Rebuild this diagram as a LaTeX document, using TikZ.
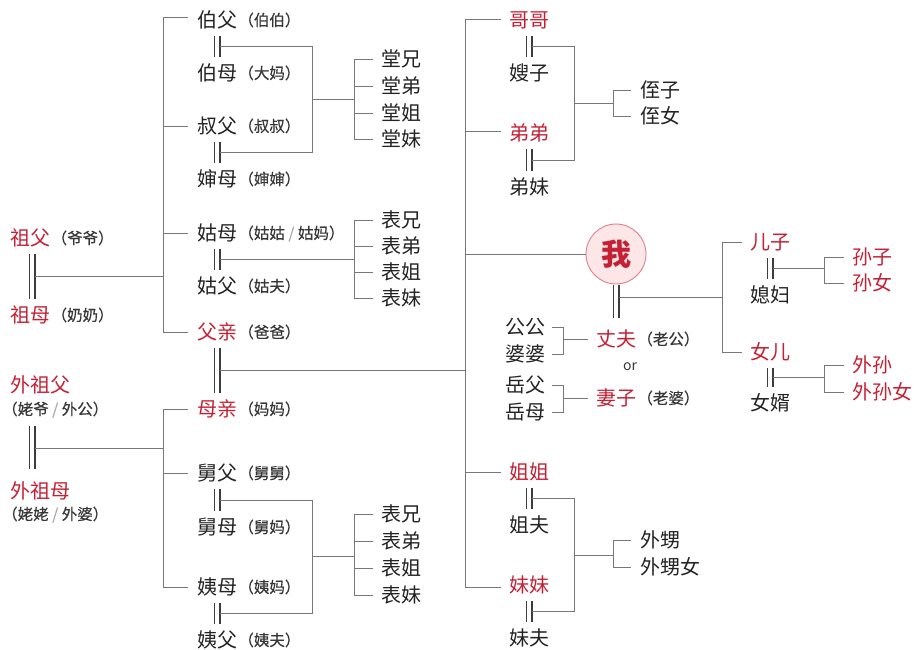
\documentclass[tikz,border=0pt]{standalone}
\usepackage{fontspec}
\newfontfamily\cjk{Noto Sans CJK SC}
\newfontfamily\cjkm[FakeBold=0.5]{Noto Sans CJK SC}
\usetikzlibrary{calc}
\definecolor{kred}{RGB}{198,32,52}
\definecolor{txt}{RGB}{35,35,35}
\definecolor{notec}{RGB}{55,55,55}
\definecolor{slashc}{RGB}{170,170,170}
\definecolor{linec}{RGB}{120,120,120}
\definecolor{marryc}{RGB}{60,60,60}
\definecolor{wofill}{RGB}{252,230,232}
\definecolor{wodraw}{RGB}{222,128,138}
\newcommand\slashsep{\hspace{3.5pt}{\color{slashc}/}\hspace{3.5pt}}
\begin{document}
\begin{tikzpicture}[x=1pt,y=-1pt,
  nm/.style={font=\cjk\fontsize{20}{20}\selectfont, text=txt, inner sep=0pt, text height=17.6pt, text depth=2.4pt},
  rd/.style={nm, text=kred},
  nt/.style={font=\cjkm\fontsize{15.5}{15.5}\selectfont, text=notec, inner sep=0pt, text height=13.6pt, text depth=1.9pt, anchor=west},
  ln/.style={draw=linec, line width=0.8pt},
  marry/.style={draw=marryc, line width=1.1pt, double=white, double distance=4.8pt, shorten <=6pt, shorten >=6pt},
]
\useasboundingbox (0,0) rectangle (914,649);
% junction columns
\coordinate (xG) at (32,0);
\coordinate (xL) at (163,0);
\coordinate (xP) at (312,0);
\coordinate (xPb) at (354,0);
\coordinate (xT) at (465,0);
\coordinate (xB1) at (552,0);
\coordinate (xB2) at (563,0);
\coordinate (xS) at (574,0);
\coordinate (xSb) at (613,0);
\coordinate (xC) at (722,0);
\coordinate (xGC) at (824,0);

% ---------- grandparents ----------
\node[rd, anchor=west] (zufu) at (10,238) {祖父};
\node[nt] (zufuN) at ([xshift=1pt]zufu.east) {（爷爷）};
\node[rd, anchor=west] (zumu) at (10,315) {祖母};
\node[nt] (zumuN) at ([xshift=1pt]zumu.east) {（奶奶）};
\node[rd, anchor=west] (wzf) at (10,385) {外祖父};
\node[nt] (wzfN) at (2,409) {（姥爷\slashsep 外公）};
\node[rd, anchor=west] (wzm) at (10,491) {外祖母};
\node[nt] (wzmN) at (2,514) {（姥姥\slashsep 外婆）};

% ---------- parents' generation ----------
\node[nm] (bofu) at (217,20) {伯父};
\node[nt] (bofuN) at ([xshift=1pt]bofu.east) {（伯伯）};
\node[nm] (bomu) at (217,73) {伯母};
\node[nt] (bomuN) at ([xshift=1pt]bomu.east) {（大妈）};
\node[nm] (shufu) at (217,126) {叔父};
\node[nt] (shufuN) at ([xshift=1pt]shufu.east) {（叔叔）};
\node[nm] (shenmu) at (217,179) {婶母};
\node[nt] (shenmuN) at ([xshift=1pt]shenmu.east) {（婶婶）};
\node[nm] (gumu) at (217,233) {姑母};
\node[nt] (gumuN) at ([xshift=1pt]gumu.east) {（姑姑\slashsep 姑妈）};
\node[nm] (gufu) at (217,286) {姑父};
\node[nt] (gufuN) at ([xshift=1pt]gufu.east) {（姑夫）};
\node[rd] (fuqin) at (217,332) {父亲};
\node[nt] (fuqinN) at ([xshift=1pt]fuqin.east) {（爸爸）};
\node[rd] (muqin) at (217,409) {母亲};
\node[nt] (muqinN) at ([xshift=1pt]muqin.east) {（妈妈）};
\node[nm] (jiufu) at (217,473) {舅父};
\node[nt] (jiufuN) at ([xshift=1pt]jiufu.east) {（舅舅）};
\node[nm] (jiumu) at (217,527) {舅母};
\node[nt] (jiumuN) at ([xshift=1pt]jiumu.east) {（舅妈）};
\node[nm] (yimu) at (217,587) {姨母};
\node[nt] (yimuN) at ([xshift=1pt]yimu.east) {（姨妈）};
\node[nm] (yifu) at (217,640) {姨父};
\node[nt] (yifuN) at ([xshift=1pt]yifu.east) {（姨夫）};

% cousins
\node[nm, anchor=west] (tx) at (381,59) {堂兄};
\node[nm, anchor=west] (td) at (381,86) {堂弟};
\node[nm, anchor=west] (tj) at (381,113) {堂姐};
\node[nm, anchor=west] (tm) at (381,139) {堂妹};
\node[nm, anchor=west] (bxa) at (381,220) {表兄};
\node[nm, anchor=west] (bda) at (381,246) {表弟};
\node[nm, anchor=west] (bja) at (381,272) {表姐};
\node[nm, anchor=west] (bma) at (381,298) {表妹};
\node[nm, anchor=west] (bxb) at (381,514) {表兄};
\node[nm, anchor=west] (bdb) at (381,541) {表弟};
\node[nm, anchor=west] (bjb) at (381,568) {表姐};
\node[nm, anchor=west] (bmb) at (381,595) {表妹};

% ---------- own generation ----------
\node[rd] (gege) at (529,20) {哥哥};
\node[nm] (saozi) at (529,73) {嫂子};
\node[rd] (didi) at (529,133) {弟弟};
\node[nm] (dimei) at (529,187) {弟妹};
\node[nm, anchor=west] (zhizi) at (640,90) {侄子};
\node[nm, anchor=west] (zhinv) at (640,116) {侄女};

\node[circle, draw=wodraw, fill=wofill, line width=0.9pt, minimum size=60pt, inner sep=0pt,
      font=\cjk\bfseries\fontsize{30}{30}\selectfont, text=kred, text height=26.4pt, text depth=3.6pt] (wo) at (616,254) {我};

\node[nm] (gonggong) at (525,327) {公公};
\node[nm] (popo) at (525,354) {婆婆};
\node[rd] (zhangfu) at (616,339) {丈夫};
\node[nt] (zhangfuN) at ([xshift=1pt]zhangfu.east) {（老公）};
\node[font=\cjk\fontsize{14}{14}\selectfont, text=notec, inner sep=0pt] (orw) at (630,367) {or};
\node[nm] (yuefu) at (525,385) {岳父};
\node[nm] (yuemu) at (525,412) {岳母};
\node[rd] (qizi) at (616,398) {妻子};
\node[nt] (qiziN) at ([xshift=1pt]qizi.east) {（老婆）};

\node[rd] (jiejie) at (529,472) {姐姐};
\node[nm] (jiefu) at (529,525) {姐夫};
\node[rd] (meimei) at (529,585) {妹妹};
\node[nm] (meifu) at (529,638) {妹夫};
\node[nm, anchor=west] (waisheng) at (640,540) {外甥};
\node[nm, anchor=west] (waishengnv) at (640,567) {外甥女};

% ---------- children ----------
\node[rd] (erzi) at (770,242) {儿子};
\node[nm] (xifu) at (770,295) {媳妇};
\node[rd] (nver) at (770,352) {女儿};
\node[nm] (nvxu) at (770,403) {女婿};
\node[rd, anchor=west] (sunzi) at (852,257) {孙子};
\node[rd, anchor=west] (sunnv) at (852,283) {孙女};
\node[rd, anchor=west] (waisun) at (852,365) {外孙};
\node[rd, anchor=west] (waisunnv) at (852,392) {外孙女};

% ================= connectors =================
% grandparents
\draw[marry] (zufu.south -| xG) -- (zumu.north -| xG);
\coordinate (gpa) at ($(zufu.south -| xG)!.5!(zumu.north -| xG)+(3,0)$);
\draw[marry, shorten <=9pt, shorten >=12pt] (wzfN.south -| xG) -- (wzm.north -| xG);
\coordinate (gpb) at ($(wzfN.south -| xG)!.5!(wzm.north -| xG)+(3,0)$);
\draw[ln] (gpa) -- (gpa -| xL);
\draw[ln] (gpb) -- (gpb -| xL);

% paternal trunk
\draw[ln, shorten >=9pt] ([yshift=3pt]bofu.west -| xL) -- ([yshift=3pt]bofu.west);
\draw[ln, shorten >=9pt] ([yshift=3pt]bofu.west -| xL) |- (fuqin.west);
\draw[ln, shorten >=9pt] (shufu.west -| xL) -- (shufu.west);
\draw[ln, shorten >=9pt] (gumu.west -| xL) -- (gumu.west);
% maternal trunk
\draw[ln, shorten >=9pt] (yimu.west -| xL) |- (muqin.west);
\draw[ln, shorten >=9pt] (yimu.west -| xL) -- (yimu.west);
\draw[ln, shorten >=9pt] (jiufu.west -| xL) -- (jiufu.west);

% couples, parents' generation
\draw[marry] (bofu.south) -- (bomu.north);
\draw[marry] (shufu.south) -- (shenmu.north);
\draw[marry] (gumu.south) -- (gufu.north);
\draw[marry] (fuqin.south) -- (muqin.north);
\draw[marry] (jiufu.south) -- (jiumu.north);
\draw[marry] (yimu.south) -- (yifu.north);
\coordinate (ma) at ($(bofu.south)!.5!(bomu.north)+(3,0)$);
\coordinate (mb) at ($(shufu.south)!.5!(shenmu.north)+(3,0)$);
\coordinate (mc) at ($(gumu.south)!.5!(gufu.north)+(3,0)$);
\coordinate (md) at ($(fuqin.south)!.5!(muqin.north)+(3,0)$);
\coordinate (me) at ($(jiufu.south)!.5!(jiumu.north)+(3,0)$);
\coordinate (mf) at ($(yimu.south)!.5!(yifu.north)+(3,0)$);
\draw[ln] (ma) -- (ma -| xP) -- (mb -| xP) -- (mb);
\coordinate (ca) at ($(ma -| xP)!.5!(mb -| xP)$);
\draw[ln] (ca) -- (ca -| xPb);
\draw[ln] (tx.west -| xPb) -- (tm.west -| xPb);
\foreach \c in {tx,td,tj,tm} \draw[ln, shorten >=8pt] (\c.west -| xPb) -- (\c.west);
\draw[ln] (mc) -- (mc -| xPb);
\draw[ln] (bxa.west -| xPb) -- (bma.west -| xPb);
\foreach \c in {bxa,bda,bja,bma} \draw[ln, shorten >=8pt] (\c.west -| xPb) -- (\c.west);
\draw[ln] (me) -- (me -| xP) -- (mf -| xP) -- (mf);
\coordinate (cb) at ($(me -| xP)!.5!(mf -| xP)$);
\draw[ln] (cb) -- (cb -| xPb);
\draw[ln] (bxb.west -| xPb) -- (bmb.west -| xPb);
\foreach \c in {bxb,bdb,bjb,bmb} \draw[ln, shorten >=8pt] (\c.west -| xPb) -- (\c.west);
% parents to own generation
\draw[ln] (md) -- (md -| xT);

% own generation trunk
\draw[ln, shorten >=8pt] ([yshift=1pt]gege.west -| xT) -- ([yshift=1pt]gege.west);
\draw[ln, shorten >=8pt] ([yshift=1pt]gege.west -| xT) |- ([yshift=-2pt]meimei.west);
\draw[ln, shorten >=8pt] ([yshift=2pt]didi.west -| xT) -- ([yshift=2pt]didi.west);
\draw[ln, shorten >=8pt] (jiejie.west -| xT) -- (jiejie.west);
\draw[ln] (wo.west -| xT) -- (wo.west);

% siblings' couples
\draw[marry] (gege.south) -- (saozi.north);
\draw[marry] (didi.south) -- (dimei.north);
\draw[marry] (jiejie.south) -- (jiefu.north);
\draw[marry] (meimei.south) -- (meifu.north);
\coordinate (mg) at ($(gege.south)!.5!(saozi.north)+(3,0)$);
\coordinate (mh) at ($(didi.south)!.5!(dimei.north)+(3,0)$);
\coordinate (mi) at ($(jiejie.south)!.5!(jiefu.north)+(3,0)$);
\coordinate (mj) at ($(meimei.south)!.5!(meifu.north)+(3,0)$);
\draw[ln] (mg) -- (mg -| xS) -- (mh -| xS) -- (mh);
\coordinate (cc) at ($(mg -| xS)!.5!(mh -| xS)$);
\draw[ln] (cc) -- (cc -| xSb);
\draw[ln] (zhizi.west -| xSb) -- (zhinv.west -| xSb);
\foreach \c in {zhizi,zhinv} \draw[ln, shorten >=9pt] (\c.west -| xSb) -- (\c.west);
\draw[ln] (mi) -- (mi -| xS) -- (mj -| xS) -- (mj);
\coordinate (cd) at ($(mi -| xS)!.5!(mj -| xS)$);
\draw[ln] (cd) -- (cd -| xSb);
\draw[ln] (waisheng.west -| xSb) -- (waishengnv.west -| xSb);
\foreach \c in {waisheng,waishengnv} \draw[ln, shorten >=9pt] (\c.west -| xSb) -- (\c.west);

% in-laws
\draw[ln] (gonggong.east -| xB1) -- (gonggong.east -| xB2) -- (popo.east -| xB2) -- (popo.east -| xB1);
\draw[ln, shorten >=8pt] (zhangfu.west -| xB2) -- (zhangfu.west);
\draw[ln] (yuefu.east -| xB1) -- (yuefu.east -| xB2) -- (yuemu.east -| xB2) -- (yuemu.east -| xB1);
\draw[ln, shorten >=8pt] (qizi.west -| xB2) -- (qizi.west);

% me and spouse
\draw[marry, shorten <=0.5pt, shorten >=11pt] (wo.south) -- (zhangfu.north);
\coordinate (mk) at ($(wo.south)+(3,13)$);
\draw[ln] (mk) -- (mk -| xC);
\draw[ln, shorten >=8pt] (erzi.west -| xC) -- (erzi.west);
\draw[ln, shorten >=8pt] (erzi.west -| xC) |- (nver.west);

% children's couples
\draw[marry] (erzi.south) -- (xifu.north);
\draw[marry] (nver.south) -- (nvxu.north);
\coordinate (ml) at ($(erzi.south)!.5!(xifu.north)+(3,0)$);
\coordinate (mm) at ($(nver.south)!.5!(nvxu.north)+(3,0)$);
\draw[ln] (ml) -- (ml -| xGC);
\draw[ln] (sunzi.west -| xGC) -- (sunnv.west -| xGC);
\foreach \c in {sunzi,sunnv} \draw[ln, shorten >=8pt] (\c.west -| xGC) -- (\c.west);
\draw[ln] (mm) -- (mm -| xGC);
\draw[ln] (waisun.west -| xGC) -- (waisunnv.west -| xGC);
\foreach \c in {waisun,waisunnv} \draw[ln, shorten >=8pt] (\c.west -| xGC) -- (\c.west);
\end{tikzpicture}
\end{document}
